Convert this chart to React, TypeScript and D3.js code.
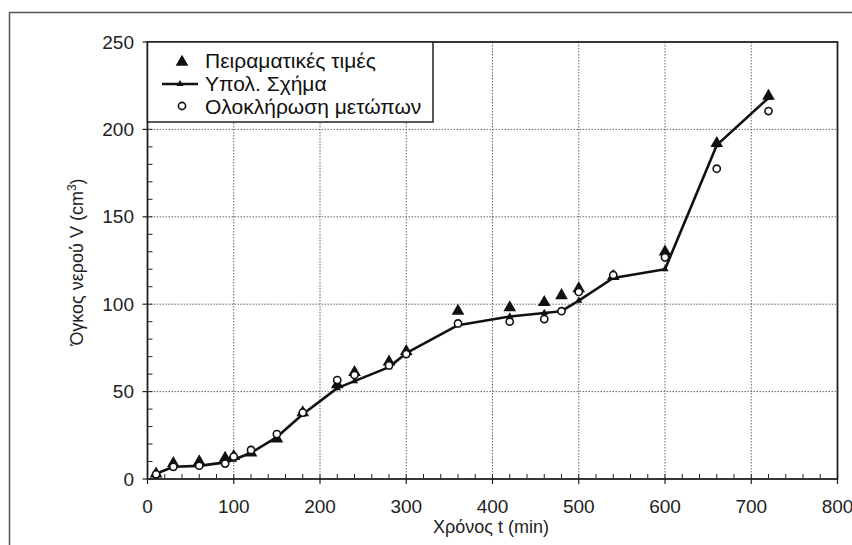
import React from "react";
import * as d3 from "d3";

const times = [10, 30, 60, 90, 100, 120, 150, 180, 220, 240, 280, 300, 360, 420, 460, 480, 500, 540, 600, 660, 720];
const experimental = [3, 9, 10, 12, 13, 15, 23, 38, 54, 61, 67, 73, 96, 98, 101, 105, 109, 116, 130, 192, 219];
const computed = [3, 7, 7.5, 9.5, 11, 15, 24, 37, 52, 56, 64, 72, 88, 93, 95, 96, 102, 115, 120, 191, 218];
const integration = [2.7, 7, 7.6, 8.8, 12.8, 16.6, 25.7, 38, 56.6, 59.5, 65, 71.5, 89, 90, 91.5, 96, 107, 116.7, 126.8, 177.5, 210.5];

const xTicks = [0, 100, 200, 300, 400, 500, 600, 700, 800];
const yTicks = [0, 50, 100, 150, 200, 250];
const legendLabels = ["Πειραματικές τιμές", "Υπολ. Σχήμα", "Ολοκλήρωση μετώπων"];
const xTitle = "Χρόνος t (min)";

const W = 852, H = 545;
const L = 147.5, R = 837.5, T = 42, B = 479;
const FONT = "'Liberation Sans', Arial, sans-serif";

export default function App() {
  const x = d3.scaleLinear().domain([0, 800]).range([L, R]);
  const y = d3.scaleLinear().domain([0, 250]).range([B, T]);
  const line = d3.line<number>().x((_, i) => x(times[i])).y((d) => y(d));
  const tri = d3.symbol().type(d3.symbolTriangle);
  const bigTri = tri.size(70)()!;
  const smallTri = tri.size(22)()!;
  const xMinor = d3.range(0, 801, 20);
  const yMinor = d3.range(0, 251, 10);

  return (
    <svg width={W} height={H} style={{ position: "absolute", left: 0, top: 0, background: "#fff" }} fontFamily={FONT}>
      <path d={`M9.5,${H} V12.5 H${W}`} fill="none" stroke="#555" strokeWidth={1.5} />
      {xTicks.slice(1, -1).map((t) => (
        <line key={"gx" + t} x1={x(t)} x2={x(t)} y1={T} y2={B} stroke="#666" strokeWidth={1} strokeDasharray="1.5,1.5" />
      ))}
      {yTicks.slice(1, -1).map((t) => (
        <line key={"gy" + t} x1={L} x2={R} y1={y(t)} y2={y(t)} stroke="#666" strokeWidth={1} strokeDasharray="1.5,1.5" />
      ))}
      {xMinor.map((t) => (
        <line key={"mx" + t} x1={x(t)} x2={x(t)} y1={B} y2={B - 5} stroke="#222" strokeWidth={1} />
      ))}
      {yMinor.map((t) => (
        <line key={"my" + t} x1={L} x2={L + 5} y1={y(t)} y2={y(t)} stroke="#222" strokeWidth={1} />
      ))}
      {xTicks.map((t) => (
        <line key={"Mx" + t} x1={x(t)} x2={x(t)} y1={B} y2={B + 5} stroke="#222" strokeWidth={1.2} />
      ))}
      {yTicks.map((t) => (
        <line key={"My" + t} x1={L - 5} x2={L} y1={y(t)} y2={y(t)} stroke="#222" strokeWidth={1.2} />
      ))}
      <rect x={L} y={T} width={R - L} height={B - T} fill="none" stroke="#222" strokeWidth={1.8} />
      {xTicks.map((t) => (
        <text key={"tx" + t} x={x(t)} y={513} textAnchor="middle" fontSize={19} fill="#222">{t}</text>
      ))}
      {yTicks.map((t) => (
        <text key={"ty" + t} x={134} y={y(t) + 6.5} textAnchor="end" fontSize={19} fill="#222">{t}</text>
      ))}
      <text x={491} y={533} textAnchor="middle" fontSize={18} fill="#222">{xTitle}</text>
      <text transform="translate(83,262) rotate(-90)" textAnchor="middle" fontSize={18} fill="#222">
        Όγκος νερού V (cm<tspan dy={-7} fontSize={12}>3</tspan><tspan dy={7}>)</tspan>
      </text>
      <path d={line(computed)!} fill="none" stroke="#111" strokeWidth={2.6} strokeLinejoin="round" />
      {computed.map((v, i) => (
        <path key={"c" + i} d={smallTri} transform={`translate(${x(times[i])},${y(v)})`} fill="#111" />
      ))}
      {experimental.map((v, i) => (
        <path key={"e" + i} d={bigTri} transform={`translate(${x(times[i])},${y(v)})`} fill="#111" />
      ))}
      {integration.map((v, i) => (
        <circle key={"o" + i} cx={x(times[i])} cy={y(v)} r={3.6} fill="#fff" stroke="#111" strokeWidth={1.6} />
      ))}
      <rect x={L} y={T} width={433 - L} height={122 - T} fill="#fff" stroke="#222" strokeWidth={1.5} />
      <path d={bigTri} transform="translate(182,62)" fill="#111" />
      <line x1={162} x2={198} y1={84} y2={84} stroke="#111" strokeWidth={2.6} />
      <path d={smallTri} transform="translate(180,84)" fill="#111" />
      <circle cx={182} cy={106} r={3.6} fill="#fff" stroke="#111" strokeWidth={1.6} />
      {legendLabels.map((s, i) => (
        <text key={"l" + i} x={205} y={68 + i * 23} fontSize={21} fill="#111">{s}</text>
      ))}
    </svg>
  );
}
